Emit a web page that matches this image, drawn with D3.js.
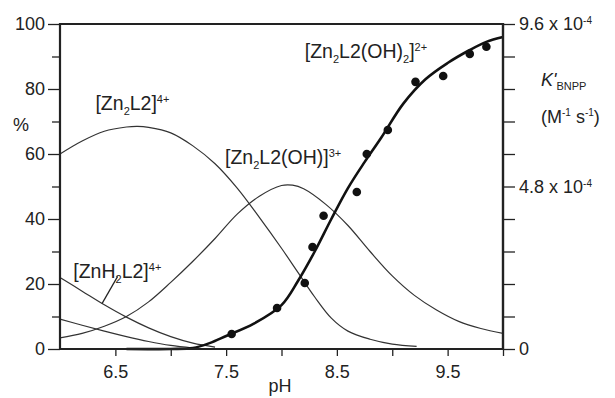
<!DOCTYPE html>
<html><head><meta charset="utf-8">
<script src="https://cdn.jsdelivr.net/npm/d3@7"></script>
<style>
body{margin:0;background:#fff;}
svg text{font-family:"Liberation Sans",Arial,sans-serif;fill:#222;}
</style></head>
<body>
<svg id="chart" width="615" height="398"></svg>
<script>
// ---- data ----
const zn2l2PH  = [6.0,6.2,6.4,6.6,6.7,6.8,7.0,7.2,7.4,7.6,7.8,8.0,8.15,8.3,8.45,8.6,8.8,9.0,9.22];
const zn2l2Val = [60,64,67,68.3,68.5,68.2,66.5,62.5,57,49.5,40.5,31,23.5,16,9.5,5.5,3,1.5,0.8];

const ohPH  = [6.0,6.2,6.4,6.6,6.8,7.0,7.2,7.4,7.6,7.8,8.0,8.1,8.2,8.4,8.6,8.8,9.0,9.2,9.4,9.6,9.8,10.0];
const ohVal = [3.4,4.8,7,10,14.5,20.5,27,34,41.5,47,50.3,50.4,49.3,44.5,38,30,22.5,16.5,12,8.5,6.3,4.8];

const znh2PH  = [6.0,6.2,6.4,6.6,6.8,7.0,7.2,7.4];
const znh2Val = [22,17.8,13.6,9.8,6.5,3.8,1.8,0.6];

const otherPH  = [6.0,6.2,6.4,6.6,6.8,7.0,7.2];
const otherVal = [9.2,7.3,5.5,3.8,2.3,1.1,0.3];

const fitPH  = [6.6,7.0,7.2,7.35,7.5,7.75,8.0,8.15,8.3,8.45,8.6,8.75,8.9,9.1,9.3,9.5,9.7,9.85,10.0];
const fitVal = [0,0,0.3,1.8,4.0,7.8,13.5,21,30,40,49.5,57.5,65,75.5,83,88,92,94.5,96];

const dotPH  = [7.55,7.96,8.21,8.28,8.38,8.68,8.77,8.96,9.21,9.46,9.70,9.85];
const dotVal = [4.6,12.6,20.3,31.4,41,48.3,60,67.4,82.2,84,90.8,93];

const xMajor = [6.5,7.5,8.5,9.5];
const xMinor = [7,8,9,10];
const yMajor = [0,20,40,60,80,100];
const yMinor = [10,30,50,70,90];
const kMax = 9.6e-4;

// ---- chart ----
const svg = d3.select("#chart");
const x = d3.scaleLinear().domain([6,10]).range([60,503]);
const y = d3.scaleLinear().domain([0,100]).range([349,24]);
const yR = d3.scaleLinear().domain([0,kMax]).range([349,24]);
const FS = 18;
const LFS = 19.5;

const line = (px, vy, c) => d3.line().x((d,i)=>x(px[i])).y((d,i)=>y(vy[i])).curve(c || d3.curveCatmullRom.alpha(0.5))(px);

// species curves
[[zn2l2PH,zn2l2Val],[ohPH,ohVal],[znh2PH,znh2Val],[otherPH,otherVal]].forEach(([p,v])=>{
  svg.append("path").attr("d",line(p,v)).attr("fill","none").attr("stroke","#333").attr("stroke-width",1.2);
});
// fit
svg.append("path").attr("d",line(fitPH,fitVal)).attr("fill","none").attr("stroke","#111").attr("stroke-width",2.6);
// dots
svg.selectAll("circle.dot").data(dotPH).enter().append("circle")
  .attr("cx",(d)=>x(d)).attr("cy",(d,i)=>y(dotVal[i])).attr("r",4.3).attr("fill","#111");

// axes
function styleAxis(g){ g.select(".domain").remove(); g.selectAll("line").attr("stroke","#222").attr("stroke-width",1.3);
  g.selectAll("text").style("font-size",FS+"px").attr("fill","#222"); }

svg.append("g").attr("transform","translate(60,0)")
  .call(d3.axisLeft(y).tickValues(yMajor).tickSize(12).tickPadding(3).tickFormat(d3.format("d"))).call(styleAxis);
svg.append("g").attr("transform","translate(60,0)")
  .call(d3.axisLeft(y).tickValues(yMinor).tickSize(8).tickFormat("")).call(styleAxis);

svg.append("g").attr("transform","translate(0,349)")
  .call(d3.axisBottom(x).tickValues(xMajor).tickSize(7).tickPadding(9).tickFormat(d3.format(".1f"))).call(styleAxis);
svg.append("g").attr("transform","translate(0,349)")
  .call(d3.axisBottom(x).tickValues(xMinor).tickSize(7).tickFormat("")).call(styleAxis);

svg.append("g").attr("transform","translate(503,0)")
  .call(d3.axisRight(yR).tickValues(d3.range(0,11).map(i=>i*kMax/10)).tickSize(12).tickFormat("")).call(styleAxis);

// frame lines
svg.append("line").attr("x1",60).attr("x2",503).attr("y1",24).attr("y2",24).attr("stroke","#222").attr("stroke-width",2);
svg.append("line").attr("x1",60).attr("x2",503).attr("y1",349).attr("y2",349).attr("stroke","#222").attr("stroke-width",2.2);
svg.append("line").attr("x1",60).attr("x2",60).attr("y1",23).attr("y2",350).attr("stroke","#222").attr("stroke-width",2.2);
svg.append("line").attr("x1",503).attr("x2",503).attr("y1",23).attr("y2",350).attr("stroke","#222").attr("stroke-width",2.4);

// right axis labels
const rLabels = [[kMax,"9.6 x 10","-4"],[kMax/2,"4.8 x 10","-4"],[0,"0",null]];
rLabels.forEach(([v,t,s])=>{
  const tx = svg.append("text").attr("x",519).attr("y",yR(v)).attr("dy","0.35em").style("font-size",FS+"px").text(t);
  if(s) tx.append("tspan").attr("dy","-0.6em").style("font-size","10px").text(s);
});

// axis titles
svg.append("text").attr("x",21).attr("y",y(69)).attr("dy","0.35em").attr("text-anchor","middle").style("font-size",FS+"px").text("%");
svg.append("text").attr("x",280).attr("y",392).attr("text-anchor","middle").style("font-size",FS+"px").text("pH");
const k = svg.append("text").attr("x",541).attr("y",86).style("font-size",FS+"px");
k.append("tspan").style("font-style","italic").text("K'");
k.append("tspan").attr("dy","4").style("font-size","11px").text("BNPP");
const u = svg.append("text").attr("x",541).attr("y",123).style("font-size",FS+"px");
u.append("tspan").text("(M");
u.append("tspan").attr("dy","-7").style("font-size","10px").text("-1");
u.append("tspan").attr("dy","7").text(" s");
u.append("tspan").attr("dy","-7").style("font-size","10px").text("-1");
u.append("tspan").attr("dy","7").text(")");

// species labels
function speciesLabel(pH, pct, parts){
  const t = svg.append("text").attr("x",x(pH)).attr("y",y(pct)).style("font-size",LFS+"px");
  let cur = 0;
  parts.forEach(([txt,kind])=>{
    const target = kind==="sub"?5:kind==="sup"?-7:0;
    t.append("tspan").attr("dy",target-cur).style("font-size",kind?"11px":LFS+"px").text(txt);
    cur = target;
  });
}
speciesLabel(6.32,73.5,[["[Zn"],["2","sub"],["L2]"],["4+","sup"]]);
speciesLabel(7.49,57,[["[Zn"],["2","sub"],["L2(OH)]"],["3+","sup"]]);
speciesLabel(8.21,89.5,[["[Zn"],["2","sub"],["L2(OH)"],["2","sub"],["]"],["2+","sup"]]);
speciesLabel(6.12,22,[["[ZnH"],["2","sub"],["L2]"],["4+","sup"]]);
// leader line
svg.append("line").attr("x1",x(6.52)).attr("y1",y(22.3)).attr("x2",x(6.38)).attr("y2",y(14))
  .attr("stroke","#222").attr("stroke-width",1.4);
</script>
</body></html>
